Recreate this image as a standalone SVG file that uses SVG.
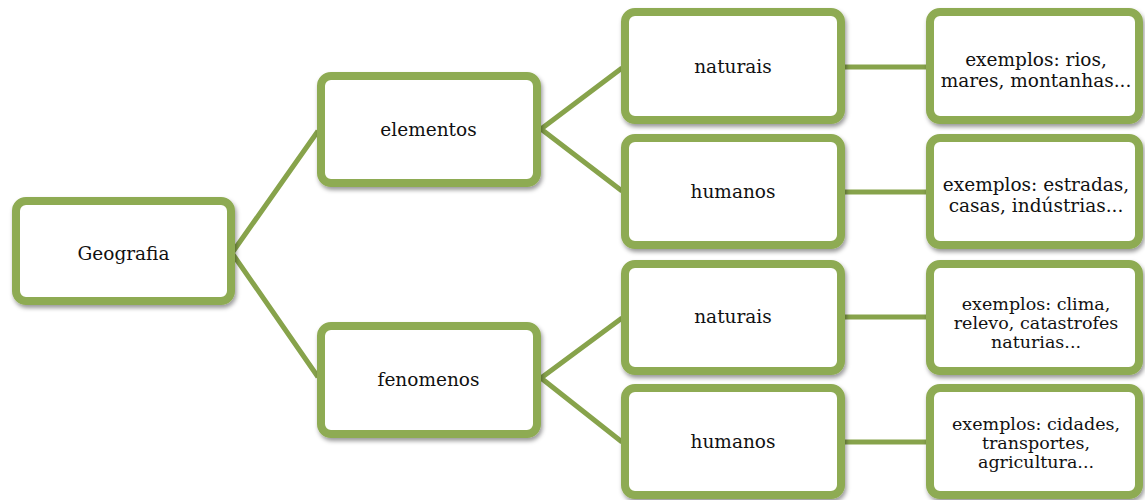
<svg xmlns="http://www.w3.org/2000/svg" width="1145" height="500" viewBox="0 0 1145 500">
<defs>
<filter id="sh" x="-10%" y="-10%" width="125%" height="130%">
<feDropShadow dx="1.5" dy="3" stdDeviation="2.2" flood-color="#000" flood-opacity="0.4"/>
</filter>
<style>
.box{fill:#fff;stroke:#8EAB52;stroke-width:8;filter:url(#sh)}
.t{font-family:"DejaVu Serif","Liberation Serif",serif;font-size:18.5px;fill:#111;text-anchor:middle}
.t3{font-size:17.5px}
.c{stroke:#87A34B;stroke-width:5;fill:none;stroke-linecap:butt}
</style>
</defs>
<rect width="1145" height="500" fill="#fff"/>
<g id="connectors">
<path class="c" d="M232,253 L318,131 M232,253 L318,377"/>
<path class="c" d="M541,129 L622,68 M541,129 L622,191"/>
<path class="c" d="M541,378 L622,318 M541,378 L622,442"/>
<path class="c" d="M844,67 L927,67 M844,192 L927,192 M844,317 L927,317 M844,442 L927,442"/>
</g>
<g id="geografia">
<rect class="box" x="16" y="201" width="215" height="100" rx="10"/>
<text class="t" x="123.5" y="260">Geografia</text>
</g>
<g id="elementos">
<rect class="box" x="321" y="76" width="216" height="107" rx="10"/>
<text class="t" x="428.5" y="136">elementos</text>
</g>
<g id="fenomenos">
<rect class="box" x="321" y="326" width="216" height="108" rx="10"/>
<text class="t" x="428.5" y="386">fenomenos</text>
</g>
<g id="naturais1">
<rect class="box" x="625" y="12" width="216" height="108" rx="10"/>
<text class="t" x="733" y="73">naturais</text>
</g>
<g id="humanos1">
<rect class="box" x="625" y="138" width="216" height="107" rx="10"/>
<text class="t" x="733" y="198">humanos</text>
</g>
<g id="naturais2">
<rect class="box" x="625" y="264" width="216" height="107" rx="10"/>
<text class="t" x="733" y="323">naturais</text>
</g>
<g id="humanos2">
<rect class="box" x="625" y="388" width="216" height="107" rx="10"/>
<text class="t" x="733" y="448">humanos</text>
</g>
<g id="exemplos1">
<rect class="box" x="930" y="12" width="209" height="108" rx="10"/>
<text class="t" x="1036" y="66">exemplos: rios,</text>
<text class="t" x="1036" y="87">mares, montanhas...</text>
</g>
<g id="exemplos2">
<rect class="box" x="930" y="138" width="209" height="107" rx="10"/>
<text class="t" x="1036" y="191">exemplos: estradas,</text>
<text class="t" x="1036" y="212">casas, indústrias...</text>
</g>
<g id="exemplos3">
<rect class="box" x="930" y="264" width="209" height="107" rx="10"/>
<text class="t t3" x="1036" y="310">exemplos: clima,</text>
<text class="t t3" x="1036" y="329">relevo, catastrofes</text>
<text class="t t3" x="1036" y="348">naturias...</text>
</g>
<g id="exemplos4">
<rect class="box" x="930" y="388" width="209" height="107" rx="10"/>
<text class="t t3" x="1036" y="429.5">exemplos: cidades,</text>
<text class="t t3" x="1036" y="448.5">transportes,</text>
<text class="t t3" x="1036" y="467.5">agricultura...</text>
</g>
</svg>
